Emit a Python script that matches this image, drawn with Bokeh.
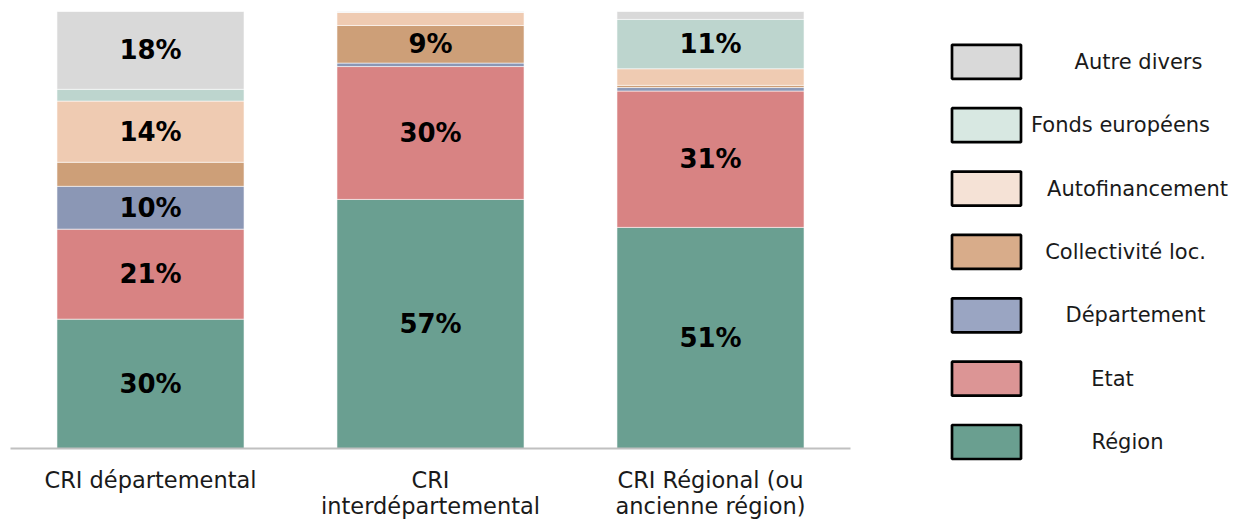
from bokeh.plotting import figure
from bokeh.models import ColumnDataSource, FactorRange, Range1d
from bokeh.layouts import row
from bokeh.embed import file_html
from bokeh.resources import INLINE
from bokeh.core.properties import value

# ---------------- data ----------------
categories = ["CRI départemental", "CRI\ninterdépartemental", "CRI Régional (ou\nancienne région)"]
series = ["Région", "Etat", "Département", "Collectivité loc.", "Autofinancement",
          "Fonds européens", "Autre divers"]
region = [29.6, 57.0, 50.6]
etat = [20.6, 30.4, 31.2]
departement = [9.8, 0.8, 0.8]
collectivite = [5.5, 8.6, 0.5]
autofinancement = [14.0, 3.0, 3.8]
fonds_europeens = [2.7, 0.0, 11.3]
autre_divers = [17.8, 0.2, 1.8]

# ---------------- styles ----------------
bar_colors = ["#6a9f91", "#d88383", "#8b97b5", "#cd9f78", "#efcbb2", "#bdd5ce", "#d9d9d9"]
legend_colors = ["#6a9f90", "#dc9595", "#9aa5c2", "#d8ac8a", "#f5e2d6", "#d8e8e2", "#d9d9d9"]
label_threshold = 8

values = [region, etat, departement, collectivite, autofinancement, fonds_europeens, autre_divers]
keys = ["s%d" % i for i in range(len(series))]
data = {"cat": categories}
for k, v in zip(keys, values):
    data[k] = v
source = ColumnDataSource(data)

W, H = 1246, 524
W1 = 880
p = figure(x_range=FactorRange(factors=categories, range_padding=0),
           y_range=Range1d(0, 100),
           frame_width=840, frame_height=437,
           min_border_left=10, min_border_right=W1 - 850, min_border_top=11,
           min_border_bottom=H - 448,
           output_backend="svg", toolbar_location=None)
p.vbar_stack(keys, x="cat", width=0.668, color=bar_colors, source=source,
             line_color="white", line_width=0.8, line_alpha=0.7)

# value labels
lx, ly, lt = [], [], []
for ci, cat in enumerate(categories):
    base = 0.0
    for vals in values:
        v = vals[ci]
        if v >= label_threshold:
            lx.append(cat)
            ly.append(base + v / 2)
            lt.append("%d%%" % round(v))
        base += v
p.text(x="cat", y="y", text="t", source=ColumnDataSource(dict(cat=lx, y=ly, t=lt)),
       text_font=value("DejaVu Sans"), text_font_style="bold", text_font_size="26px",
       text_color="#000000", text_align="center", text_baseline="middle")

p.yaxis.visible = False
p.xgrid.visible = False
p.ygrid.visible = False
p.outline_line_color = None
ax = p.xaxis[0]
ax.axis_line_color = "#c0c0c0"
ax.axis_line_width = 2
ax.major_tick_line_color = None
ax.minor_tick_line_color = None
ax.major_label_standoff = 12
ax.major_label_text_font = "DejaVu Sans"
ax.major_label_text_font_size = "22.5px"
ax.major_label_text_line_height = 1.0
ax.major_label_text_color = "#1a1a1a"
ax.major_label_orientation = "horizontal"

# ---------------- legend figure (pixel coordinates) ----------------
lg = figure(width=W - W1, height=H,
            x_range=Range1d(W1, W), y_range=Range1d(H, 0),
            min_border=0, output_backend="svg", toolbar_location=None)
if hasattr(lg, "frame_align"):
    lg.frame_align = False
    p.frame_align = False
lg.axis.visible = False
lg.grid.visible = False
lg.outline_line_color = None

box_cx = 986
box_y0 = 61.3
box_step = 63.37
text_cx = [1138, 1120, 1137, 1125, 1135, 1112, 1127]
order = list(range(len(series)))[::-1]  # top: Autre divers ... bottom: Région
bx, by, bc, tx, tt = [], [], [], [], []
for j, si in enumerate(order):
    bx.append(box_cx)
    by.append(box_y0 + j * box_step)
    bc.append(legend_colors[si])
    tx.append(text_cx[j])
    tt.append(series[si])
lsrc = ColumnDataSource(dict(x=bx, y=by, c=bc, tx=tx, t=tt))
lg.rect(x="x", y="y", width=69, height=34, fill_color="c", line_color="#000000",
        line_width=2.7, source=lsrc)
lg.text(x="tx", y="y", text="t", source=lsrc, text_font=value("DejaVu Sans"),
        text_font_size="21px", text_color="#1a1a1a", text_align="center",
        text_baseline="middle")

layout = row(p, lg)
open("out.html", "w").write(file_html(layout, INLINE))
